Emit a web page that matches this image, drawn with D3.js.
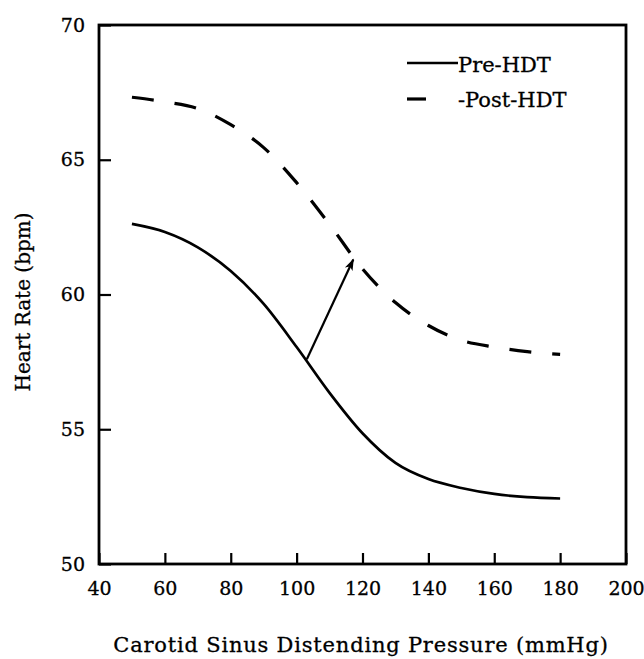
<!DOCTYPE html>
<html>
<head>
<meta charset="utf-8">
<script src="https://cdn.jsdelivr.net/npm/d3@7"></script>
<style>
  body { margin: 0; background: #fff; }
  text { font-family: "DejaVu Serif", serif; fill: #000; }
</style>
</head>
<body>
<div id="chart"></div>
<script>
// Data
var pressure = [50, 60, 70, 80, 90, 100, 110, 120, 130, 140, 150, 160, 170, 180];
var preHDT   = [62.62, 62.32, 61.75, 60.87, 59.65, 58.05, 56.35, 54.85, 53.75, 53.15, 52.82, 52.6, 52.48, 52.43];
var postHDT  = [67.32, 67.15, 66.9, 66.3, 65.45, 64.15, 62.6, 60.95, 59.7, 58.85, 58.3, 58.05, 57.88, 57.78];
var xTicks = [40, 60, 80, 100, 120, 140, 160, 180, 200];
var yTicks = [50, 55, 60, 65, 70];
var arrowFrom = [103.1, 57.6];
var arrowTo = [117.2, 61.3];

var W = 644, H = 659;
var margin = { top: 25, right: 18, bottom: 95, left: 99 };
var w = W - margin.left - margin.right;
var h = H - margin.top - margin.bottom;

var svg = d3.select("#chart").append("svg")
    .attr("width", W)
    .attr("height", H);

var defs = svg.append("defs");
defs.append("marker")
    .attr("id", "head")
    .attr("viewBox", "0 0 10 10")
    .attr("refX", 9).attr("refY", 5)
    .attr("markerWidth", 12).attr("markerHeight", 12)
    .attr("markerUnits", "userSpaceOnUse")
    .attr("orient", "auto")
    .append("path")
    .attr("d", "M0,1.5 L10,5 L0,8.5 L2.5,5 Z")
    .attr("fill", "#000");

var g = svg.append("g")
    .attr("transform", "translate(" + margin.left + "," + margin.top + ")");

var x = d3.scaleLinear().domain([40, 200]).range([0, w]);
var y = d3.scaleLinear().domain([50, 70]).range([h, 0]);

// frame
g.append("rect")
    .attr("x", 0).attr("y", 0)
    .attr("width", w).attr("height", h)
    .attr("fill", "none")
    .attr("stroke", "#000")
    .attr("stroke-width", 2.8);

// axes with inward ticks
var xAxis = d3.axisBottom(x).tickValues(xTicks).tickSizeInner(-11).tickSizeOuter(0).tickPadding(18);
var yAxis = d3.axisLeft(y).tickValues(yTicks).tickSizeInner(-12).tickSizeOuter(0).tickPadding(14);

var gx = g.append("g").attr("transform", "translate(0," + h + ")").call(xAxis);
var gy = g.append("g").call(yAxis);

[gx, gy].forEach(function(a) {
    a.select(".domain").remove();
    a.selectAll("line").attr("stroke", "#000").attr("stroke-width", 2.2);
    a.selectAll("text")
        .attr("font-size", "19px")
        .attr("font-family", "DejaVu Serif")
        .attr("stroke", "#000").attr("stroke-width", 0.3);
});
gx.selectAll("text").attr("dy", "0.68em");

// curves
var line = d3.line()
    .x(function(d) { return x(d[0]); })
    .y(function(d) { return y(d[1]); })
    .curve(d3.curveMonotoneX);

g.append("path")
    .datum(pressure.map(function(p, i) { return [p, preHDT[i]]; }))
    .attr("d", line)
    .attr("fill", "none")
    .attr("stroke", "#000")
    .attr("stroke-width", 2.7);

g.append("path")
    .datum(pressure.map(function(p, i) { return [p, postHDT[i]]; }))
    .attr("d", line)
    .attr("fill", "none")
    .attr("stroke", "#000")
    .attr("stroke-width", 3.2)
    .attr("stroke-dasharray", "22,21");

// arrow between the curves
g.append("line")
    .attr("x1", x(arrowFrom[0])).attr("y1", y(arrowFrom[1]))
    .attr("x2", x(arrowTo[0])).attr("y2", y(arrowTo[1]))
    .attr("stroke", "#000")
    .attr("stroke-width", 2.2)
    .attr("marker-end", "url(#head)");

// legend
var lg = svg.append("g");
lg.append("line")
    .attr("x1", 407).attr("x2", 458).attr("y1", 63).attr("y2", 63)
    .attr("stroke", "#000").attr("stroke-width", 2.7);
lg.append("text").attr("x", 458).attr("y", 72)
    .attr("font-size", "21px").attr("stroke", "#000").attr("stroke-width", 0.3)
    .text("Pre-HDT");
lg.append("line")
    .attr("x1", 407).attr("x2", 426).attr("y1", 99).attr("y2", 99)
    .attr("stroke", "#000").attr("stroke-width", 3.2);
lg.append("text").attr("x", 458).attr("y", 107)
    .attr("font-size", "21px").attr("stroke", "#000").attr("stroke-width", 0.3)
    .text("-Post-HDT");

// axis titles
svg.append("text")
    .attr("x", 361).attr("y", 652)
    .attr("text-anchor", "middle")
    .attr("font-size", "21px")
    .attr("letter-spacing", "0.8px")
    .attr("stroke", "#000").attr("stroke-width", 0.3)
    .text("Carotid Sinus Distending Pressure (mmHg)");

svg.append("text")
    .attr("transform", "translate(30,302) rotate(-90)")
    .attr("text-anchor", "middle")
    .attr("font-size", "20px")
    .attr("stroke", "#000").attr("stroke-width", 0.3)
    .text("Heart Rate (bpm)");
</script>
</body>
</html>
